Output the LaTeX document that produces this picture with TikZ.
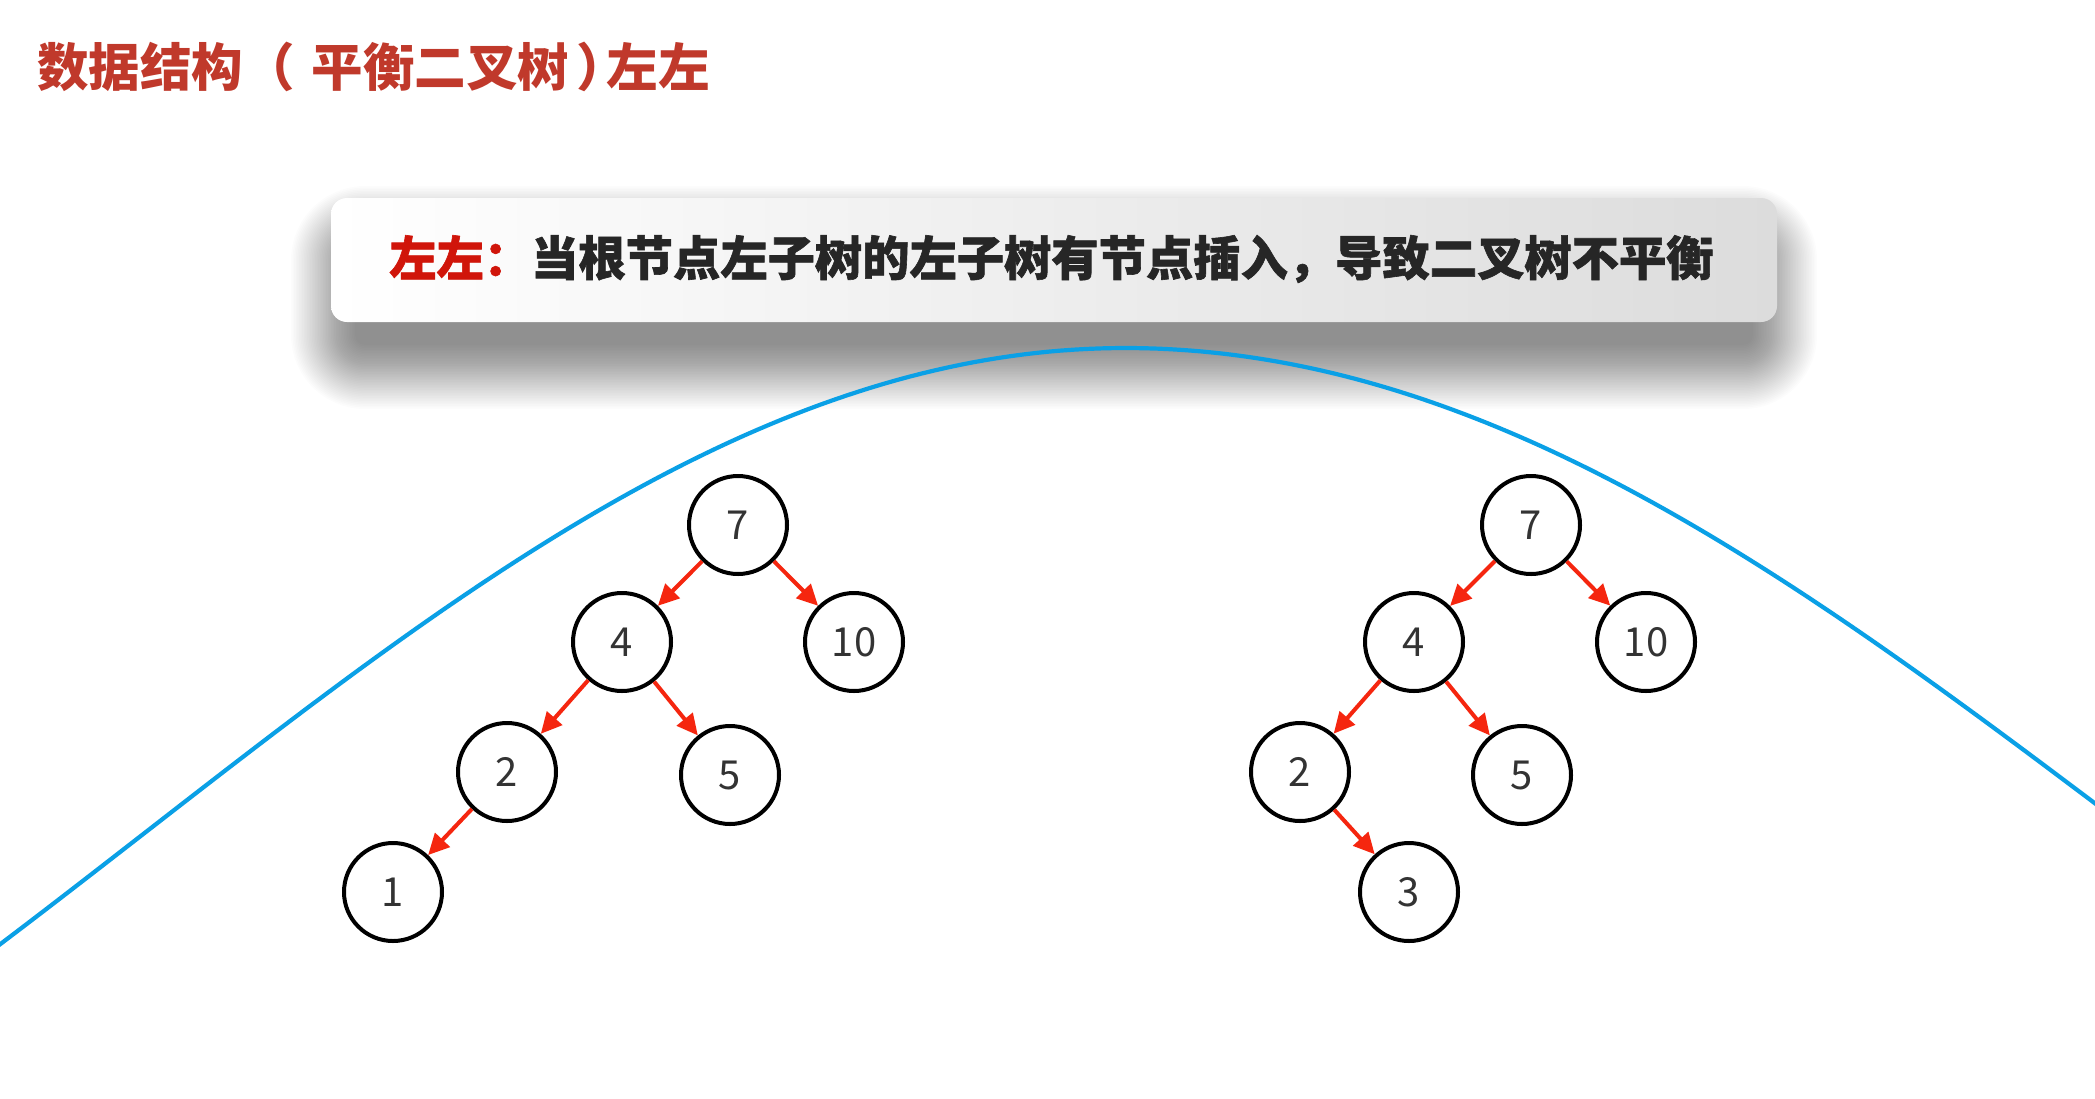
\documentclass[tikz,border=0pt]{standalone}
\usepackage{fontspec}
\newfontfamily\cjk{Noto Sans CJK SC}
\newfontfamily\cjkheavy{Noto Sans CJK SC}[BoldFeatures={FakeBold=1.3}]
\usetikzlibrary{arrows.meta}
\definecolor{titlered}{HTML}{C0392B}
\definecolor{labelred}{HTML}{D0150A}
\definecolor{arrowred}{HTML}{F5260F}
\definecolor{curveblue}{HTML}{0AA0E6}
\definecolor{numgray}{HTML}{333333}
\definecolor{bannerright}{HTML}{DCDCDC}
\begin{document}
\begin{tikzpicture}[x=1pt,y=-1pt,
  tnode/.style={circle, draw=black, line width=4pt, minimum size=98pt, inner sep=0pt,
    font=\cjk\fontsize{40}{44}\selectfont, text=numgray},
  tarrow/.style={draw=arrowred, line width=4pt, -{Triangle[length=21pt,width=20pt]}},
  titletext/.style={inner sep=0pt, anchor=west, text=titlered, font=\cjk\bfseries\fontsize{51.5}{60}\selectfont},
  bannertext/.style={inner sep=0pt, anchor=west, text=black!85, font=\cjkheavy\bfseries\fontsize{47.3}{56}\selectfont}]
\useasboundingbox (0,0) rectangle (2095,1098);
\fill[white] (0,0) rectangle (2095,1098);
% title
\node[titletext] (title) at (37,67) {数据结构（ \hspace{0.1em}平衡二叉树\hspace{0.15em}）\hspace{-0.42em}左左};
% banner shadow
\foreach \i in {0,...,40} {
  \fill[black, opacity=0.011, rounded corners={10pt+1.6pt*\i}]
    (355-1.6*\i, 250-1.6*\i) rectangle (1753+1.6*\i, 345+1.6*\i);
}
% banner
\shade[left color=white, right color=bannerright, rounded corners=16pt]
  (331,198) rectangle (1777,322);
\node[bannertext] (banner) at (389,259) {{\color{labelred}左左：}当根节点左子树的左子树有节点插入，导致二叉树不平衡};
% curve
\draw[curveblue, line width=4.2pt]
  plot[domain=-5:1125, samples=90] (\x, {348+485*(1-cos(deg(0.0016*(\x-1125))))})
  -- plot[domain=1125:2100, samples=90] (\x, {348+485*(1-cos(deg(0.00156*(\x-1125))))});
% left tree
\node[tnode] (a7) at (738,525) {7};
\node[tnode] (a4) at (622,642) {4};
\node[tnode] (a10) at (854,642) {10};
\node[tnode] (a2) at (507,772) {2};
\node[tnode] (a5) at (730,775) {5};
\node[tnode] (a1) at (393,892) {1};
\draw[tarrow] (a7) -- (a4);
\draw[tarrow] (a7) -- (a10);
\draw[tarrow] (a4) -- (a2);
\draw[tarrow] (a4) -- (a5);
\draw[tarrow] (a2) -- (a1);
% right tree
\node[tnode] (b7) at (1531,525) {7};
\node[tnode] (b4) at (1414,642) {4};
\node[tnode] (b10) at (1646,642) {10};
\node[tnode] (b2) at (1300,772) {2};
\node[tnode] (b5) at (1522,775) {5};
\node[tnode] (b3) at (1409,892) {3};
\draw[tarrow] (b7) -- (b4);
\draw[tarrow] (b7) -- (b10);
\draw[tarrow] (b4) -- (b2);
\draw[tarrow] (b4) -- (b5);
\draw[tarrow] (b2) -- (b3);
\end{tikzpicture}
\end{document}
